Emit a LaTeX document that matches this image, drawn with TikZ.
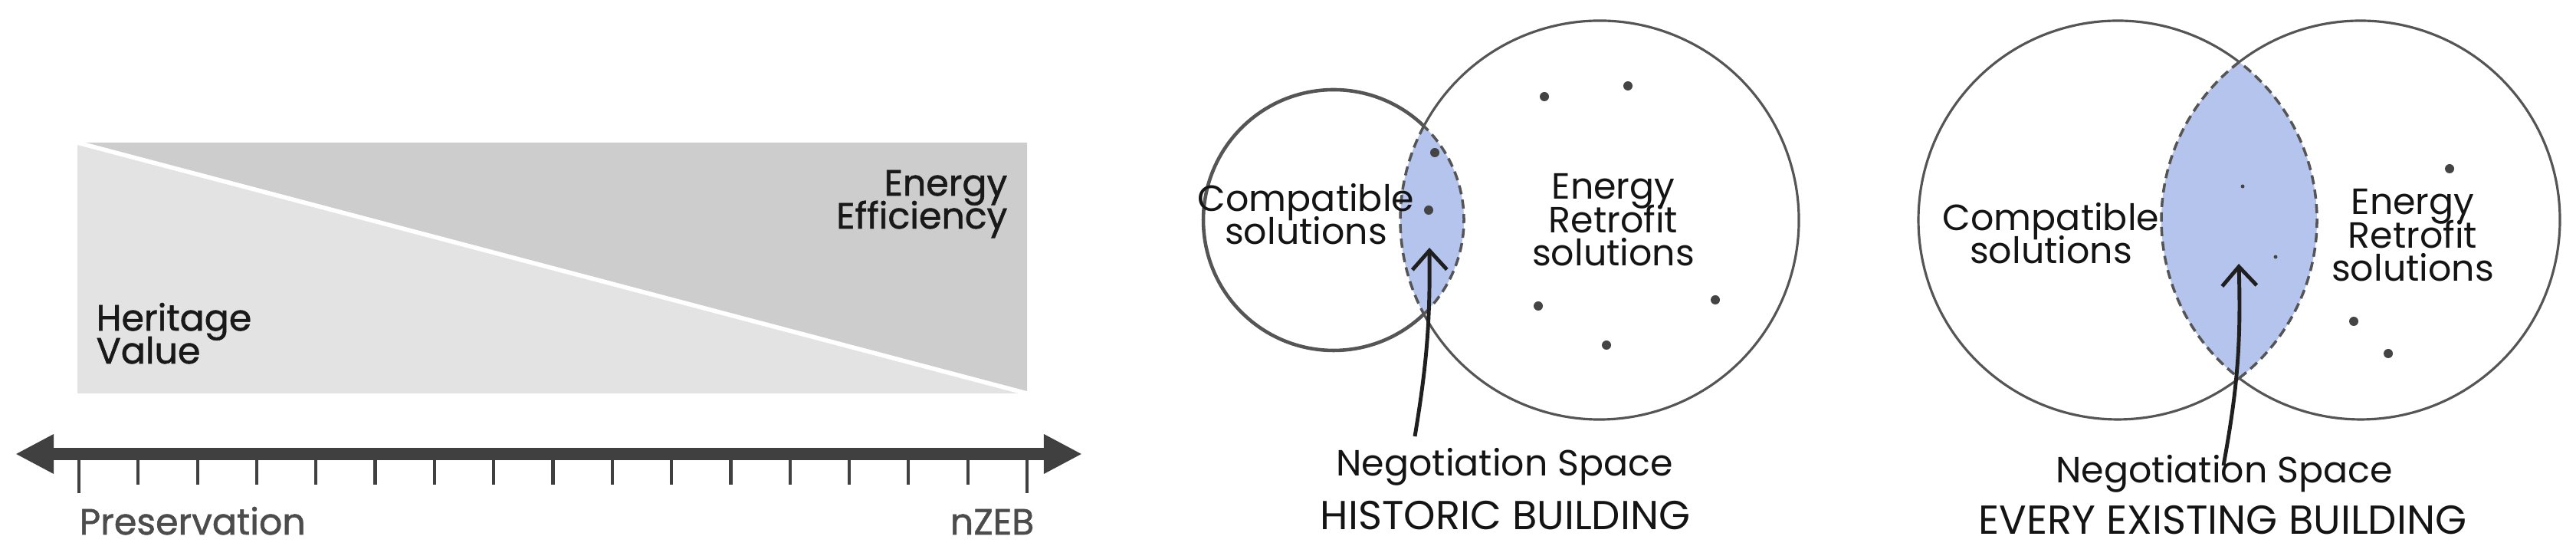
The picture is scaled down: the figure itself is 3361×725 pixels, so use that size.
\documentclass[tikz,border=0pt]{standalone}
\usepackage{fontspec}
\setmainfont{Poppins}
\newfontfamily\medfont{Poppins}[FakeBold=1.2]
\usetikzlibrary{arrows.meta}
\setlength{\lineskiplimit}{-100pt}

\definecolor{hvgray}{HTML}{E3E3E3}
\definecolor{eegray}{HTML}{CDCDCD}
\definecolor{axisgray}{HTML}{404040}
\definecolor{ringgray}{HTML}{555555}
\definecolor{lensblue}{HTML}{B4C4EC}
\definecolor{dotgray}{HTML}{444444}

\begin{document}
\begin{tikzpicture}[
  x=0.01cm, y=0.01cm,
  lbl/.style={font=\fontsize{13.5}{12.5}\selectfont, align=center, inner sep=0pt, text=black!92},
  caplbl/.style={font=\fontsize{15}{15}\selectfont, inner sep=0pt, text=black!92},
  sidelbl/.style={font=\medfont\fontsize{13.5}{12.2}\selectfont, inner sep=0pt, text=black!90},
  scalelbl/.style={font=\medfont\fontsize{13.5}{12.5}\selectfont, inner sep=0pt, text=black!70},
  axis/.style={axisgray, line width=0.16cm, {Triangle[length=0.5cm,width=0.48cm]}-{Triangle[length=0.5cm,width=0.48cm]}},
  tick/.style={axisgray, line width=1.2pt},
  ring/.style={ringgray, line width=0.9pt},
  lensline/.style={ringgray, line width=1pt, dash pattern=on 3.4pt off 2pt},
  pointer/.style={black!88, line width=1.4pt, -{Straight Barb[length=0.25cm,width=0.45cm]}},
  dot/.style={fill=dotgray}
]
  \useasboundingbox (0,0) rectangle (3361,725);

  %% ── Panel 1: Heritage Value / Energy Efficiency ───────────────────────────
  \fill[hvgray] (101,212) rectangle (1340,539);
  \fill[eegray] (101,539) -- (1340,539) -- (1340,212) -- cycle;
  \draw[white, line width=1.6pt] (101,539) -- (1340,212);
  \node[sidelbl, align=right, anchor=base east] (eff) at (1315,427) {Energy\\Efficiency};
  \node[sidelbl, align=left, anchor=base west] (herit) at (125,251) {Heritage\\Value};

  % scale from Preservation to nZEB
  \coordinate (axL) at (20,133);
  \coordinate (axR) at (1412,133);
  \draw[axis] (axL) -- (axR);
  \foreach \i in {1,...,15}
    \draw[tick] (103+\i*77.31,127) -- (103+\i*77.31,93);
  \draw[tick] (103,127) -- (103,82);
  \draw[tick] (1340,127) -- (1340,82);
  \node[scalelbl, anchor=base west] (pres) at (103,28) {Preservation};
  \node[scalelbl, anchor=base east] (nzeb) at (1350,28) {nZEB};

  %% ── Panel 2: historic building ────────────────────────────────────────────
  \begin{scope}
    \clip (1740,438) circle (170);
    \fill[lensblue] (2087,438) circle (260);
  \end{scope}
  \draw[ring, line width=1.3pt] (1740,438) ++(46.2:170) arc[start angle=46.2, end angle=313.8, radius=170];
  \draw[ring] (2087,438) ++(151.85:260) arc[start angle=151.85, end angle=-151.85, radius=260];
  \draw[lensline] (1740,438) ++(-46.2:170) arc[start angle=-46.2, end angle=46.2, radius=170];
  \draw[lensline] (2087,438) ++(151.85:260) arc[start angle=151.85, end angle=208.15, radius=260];
  \foreach \p in {(2015,599),(2124,613),(1872,526),(1864,451),(2007,326),(2238,334),(2096,275)}
    \fill[dot] \p circle (6);
  \node[lbl, anchor=base] (compM) at (1704,406) {Compatible\\solutions};
  \node[lbl, anchor=base] (enerM) at (2105,378) {Energy\\Retrofit\\solutions};
  \node[lbl, anchor=base] (negM) at (1963,104) {Negotiation Space};
  \node[caplbl, anchor=base] (bldM) at (1964,34) {HISTORIC BUILDING};
  \coordinate (tailM) at (1846,156);
  \coordinate (tipM) at (1865,402);
  \draw[pointer] (tailM) to[bend right=5] (tipM);

  %% ── Panel 3: every existing building ──────────────────────────────────────
  \begin{scope}
    \clip (2763,438) circle (260);
    \fill[lensblue] (3080,438) circle (260);
  \end{scope}
  \draw[ring] (2763,438) ++(52.44:260) arc[start angle=52.44, end angle=307.56, radius=260];
  \draw[ring] (3080,438) ++(127.56:260) arc[start angle=127.56, end angle=-127.56, radius=260];
  \draw[lensline] (2763,438) ++(-52.44:260) arc[start angle=-52.44, end angle=52.44, radius=260];
  \draw[lensline] (3080,438) ++(127.56:260) arc[start angle=127.56, end angle=232.44, radius=260];
  \foreach \p in {(3196,505),(3071,306),(3116,264)}
    \fill[dot] \p circle (6);
  \foreach \p in {(2926,482),(2969,390)}
    \fill[dot] \p circle (2.5);
  \node[lbl, anchor=base] (compE) at (2676,381) {Compatible\\solutions};
  \node[lbl, anchor=base] (enerE) at (3148,358) {Energy\\Retrofit\\solutions};
  \node[lbl, anchor=base] (negE) at (2902,95) {Negotiation Space};
  \node[caplbl, anchor=base] (bldE) at (2900,28) {EVERY EXISTING BUILDING};
  \coordinate (tailE) at (2901,118);
  \coordinate (tipE) at (2921,381);
  \draw[pointer] (tailE) to[bend right=6] (tipE);
\end{tikzpicture}
\end{document}
